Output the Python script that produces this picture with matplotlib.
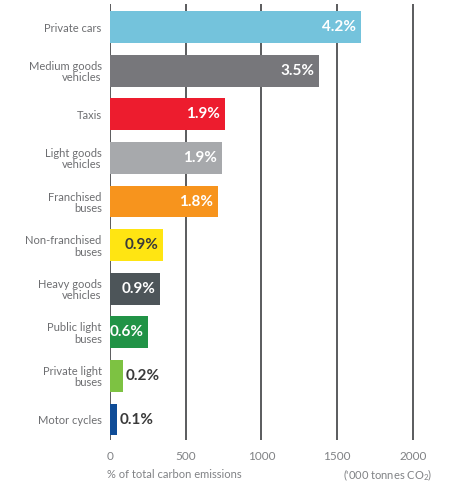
import matplotlib.pyplot as plt

plt.rcParams['font.family'] = ['Lato', 'DejaVu Sans']
plt.rcParams['mathtext.fontset'] = 'custom'
plt.rcParams['mathtext.rm'] = 'Lato'

# Data ('000 tonnes CO2)
categories = ['Private cars', 'Medium goods\nvehicles', 'Taxis', 'Light goods\nvehicles',
              'Franchised\nbuses', 'Non-franchised\nbuses', 'Heavy goods\nvehicles',
              'Public light\nbuses', 'Private light\nbuses', 'Motor cycles']
emissions = [1657, 1380, 759, 739, 713, 350, 330, 251, 86, 46]
shares = ['4.2%', '3.5%', '1.9%', '1.9%', '1.8%', '0.9%', '0.9%', '0.6%', '0.2%', '0.1%']
colors = ['#74c3dc', '#77777b', '#ed1c2e', '#a7a9ac', '#f7941d',
          '#ffe512', '#4d5559', '#219346', '#7dc242', '#0f4c97']
label_inside = [True, True, True, True, True, True, True, True, False, False]
label_colors = ['white', 'white', 'white', 'white', 'white',
                '#3a3a3a', 'white', 'white', '#3a3a3a', '#3a3a3a']
xticks = [0, 500, 1000, 1500, 2000]

W, H = 456, 483
fig = plt.figure(figsize=(W / 100, H / 100), dpi=100)
# axes placed in pixel coordinates
left, right, top, bottom = 110, 416, 4, 440
ax = fig.add_axes([left / W, 1 - bottom / H, (right - left) / W, (bottom - top) / H])

y = list(range(len(categories)))
ax.barh(y, emissions, height=0.73, color=colors, zorder=3)

# vertical grid lines
for t in xticks:
    ax.axvline(t, color='#5a5b5d', linewidth=1.4, zorder=1)

for i, (v, s) in enumerate(zip(emissions, shares)):
    if label_inside[i]:
        ax.annotate(s, (v, i), xytext=(-3.5, 0), textcoords='offset points',
                    ha='right', va='center', fontsize=11, fontweight='bold',
                    color=label_colors[i], zorder=4)
    else:
        ax.annotate(s, (v, i), xytext=(2, 0), textcoords='offset points',
                    ha='left', va='center', fontsize=11, fontweight='bold',
                    color=label_colors[i], zorder=4)

ax.set_xlim(0, 2020)
ax.set_ylim(9.47, -0.53)
ax.set_yticks(y)
ax.set_yticklabels(categories, fontsize=8, color='#6d6e71', linespacing=1.05)
ax.set_xticks(xticks)
ax.set_xticklabels([str(t) for t in xticks], fontsize=8.5, color='#808285')
ax.tick_params(length=0, pad=8)
ax.tick_params(axis='y', pad=6)
for sp in ax.spines.values():
    sp.set_visible(False)

fig.text(107 / W, 1 - 475 / H, '% of total carbon emissions', fontsize=8,
         color='#808285', va='center', ha='left')
fig.text(432 / W, 1 - 475 / H, "('000 tonnes CO$_2$)", fontsize=8,
         color='#808285', va='center', ha='right')

fig.savefig('out.png', dpi=100)
